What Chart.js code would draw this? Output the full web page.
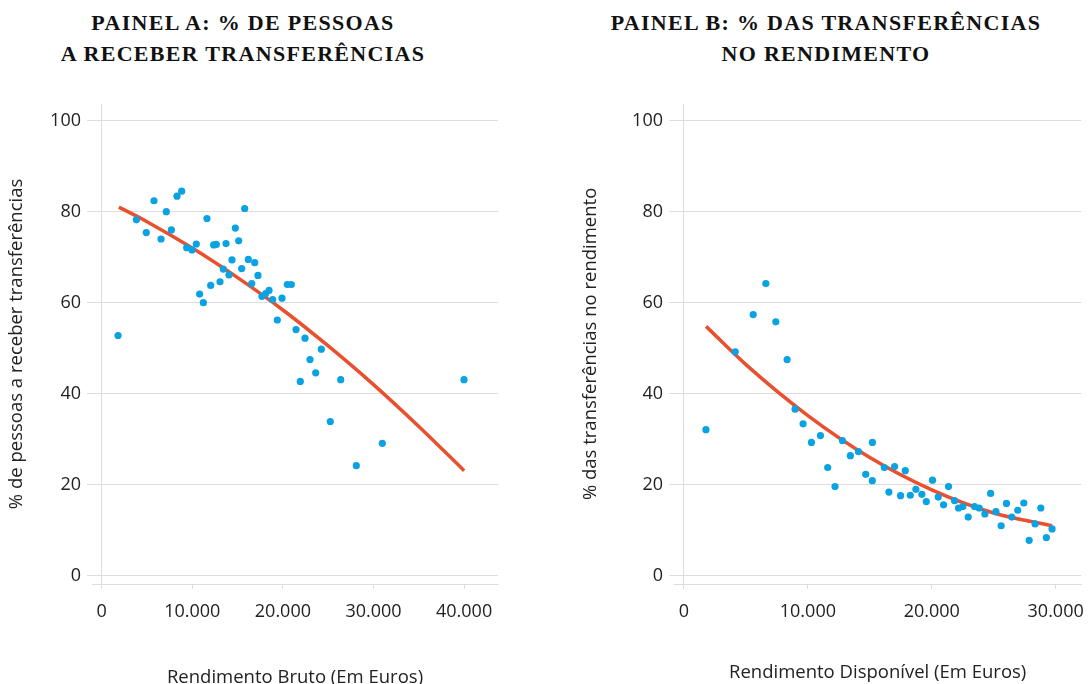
<!DOCTYPE html>
<html lang="pt">
<head>
<meta charset="utf-8">
<script src="https://cdn.jsdelivr.net/npm/chart.js@4"></script>
<style>
  body { margin: 0; background: #fff; }
  #wrap { position: relative; width: 1089px; height: 684px; overflow: hidden; }
  .title {
    position: absolute; top: 7px; width: 560px; margin: 0;
    font-family: "Liberation Serif", serif; font-weight: bold; font-size: 22px;
    line-height: 31px; letter-spacing: 1.3px; text-align: center; color: #111;
  }
  #titleA { left: -37px; }
  #titleB { left: 546px; }
  canvas { position: absolute; top: 87px; }
  #chartA { left: 0; }
  #chartB { left: 574px; }
</style>
</head>
<body>
<div id="wrap">
  <h2 class="title" id="titleA">PAINEL A: % DE PESSOAS<br>A RECEBER TRANSFERÊNCIAS</h2>
  <h2 class="title" id="titleB">PAINEL B: % DAS TRANSFERÊNCIAS<br>NO RENDIMENTO</h2>
  <canvas id="chartA" width="545" height="597"></canvas>
  <canvas id="chartB" width="522" height="597"></canvas>
</div>
<script>
// Painel A: rendimento bruto vs % de pessoas a receber transferências
const incomeA = [1810, 3830, 4920, 5770, 6550, 7130, 7690, 8310, 8830, 9380, 9970, 10440,
  10810, 11220, 11620, 12030, 12360, 12650, 13060, 13420, 13720, 14050, 14380, 14750,
  15120, 15450, 15780, 16180, 16560, 16890, 17250, 17690, 18100, 18470, 18870, 19380,
  19900, 20490, 20930, 21450, 21920, 22440, 22990, 23620, 24240, 25230, 26380, 28100,
  30970, 39990];
const shareA = [52.8, 78.2, 75.4, 82.4, 74.0, 80.0, 76.0, 83.4, 84.5, 72.1, 71.6, 72.9,
  61.9, 60.0, 78.5, 63.8, 72.7, 72.8, 64.6, 67.4, 73.0, 66.1, 69.4, 76.4,
  73.6, 67.5, 80.7, 69.5, 64.2, 68.8, 66.0, 61.4, 62.0, 62.7, 60.7, 56.2,
  61.0, 64.0, 64.0, 54.1, 42.7, 52.2, 47.5, 44.6, 49.8, 33.9, 43.1, 24.2,
  29.1, 43.1];
const trendIncomeA = [1900, 5000, 10000, 15000, 20000, 25000, 30000, 35000, 40000];
const trendShareA = [81, 77.8, 72, 65.5, 58.4, 50.5, 42, 32.8, 23.1];

// Painel B: rendimento disponível vs % das transferências no rendimento
const incomeB = [1773, 4136, 5584, 6608, 7413, 8324, 8969, 9614, 10290, 11015, 11600,
  12190, 12790, 13430, 14080, 14670, 15210, 15200, 16170, 16540, 17000, 17480, 17860,
  18270, 18720, 19200, 19560, 20060, 20520, 20950, 21350, 21840, 22160, 22510, 22940,
  23450, 23830, 24290, 24750, 25180, 25600, 26030, 26460, 26940, 27430, 27860, 28340,
  28800, 29250, 29710];
const shareB = [32.1, 49.2, 57.4, 64.2, 55.8, 47.5, 36.6, 33.4, 29.3, 30.8, 23.8,
  19.6, 29.7, 26.4, 27.3, 22.3, 29.3, 20.9, 23.8, 18.4, 24.0, 17.6, 23.1,
  17.7, 19.0, 17.9, 16.3, 21.0, 17.3, 15.6, 19.6, 16.5, 14.9, 15.2, 12.9,
  15.2, 14.9, 13.6, 18.1, 14.1, 11.0, 15.9, 12.9, 14.4, 16.0, 7.8, 11.4,
  14.9, 8.4, 10.3];
const trendIncomeB = [1780, 5000, 10000, 15000, 20000, 25000, 29700];
const trendShareB = [54.8, 46.4, 35.2, 26.0, 18.9, 13.8, 11.0];

const yTicks = [0, 20, 40, 60, 80, 100];
const xTicksA = [0, 10000, 20000, 30000, 40000];
const xTickLabelsA = ['0', '10.000', '20.000', '30.000', '40.000'];
const xTicksB = [0, 10000, 20000, 30000];
const xTickLabelsB = ['0', '10.000', '20.000', '30.000'];

const DOT = '#0aa2e2';
const TREND = '#e8502f';
const GRID = '#dddddd';
const TEXT = '#222222';
const FONT = '"Open Sans", "Noto Sans", sans-serif';

function pairs(xs, ys) {
  return xs.map((x, i) => ({ x: x, y: ys[i] }));
}

function makeChart(id, cfg) {
  const ctx = document.getElementById(id).getContext('2d');
  return new Chart(ctx, {
    type: 'scatter',
    data: {
      datasets: [{
        data: pairs(cfg.xs, cfg.ys),
        backgroundColor: DOT,
        borderWidth: 0,
        pointRadius: 3.6,
        order: 0
      }, {
        type: 'line',
        data: pairs(cfg.trendX, cfg.trendY),
        borderColor: TREND,
        borderWidth: 3.5,
        pointRadius: 0,
        fill: false,
        cubicInterpolationMode: 'monotone',
        order: 1
      }]
    },
    options: {
      responsive: false,
      animation: false,
      layout: { padding: { top: 11, right: cfg.padRight, left: 0, bottom: 0 } },
      plugins: { legend: { display: false }, tooltip: { enabled: false } },
      scales: {
        x: {
          type: 'linear',
          min: cfg.xMin,
          max: cfg.xMax,
          afterBuildTicks: s => { s.ticks = cfg.xTicks.map(v => ({ value: v })); },
          afterFit: s => { s.height = 100; },
          grid: {
            color: c => (c.tick && c.tick.value === 0) ? GRID : 'rgba(0,0,0,0)',
            tickColor: GRID,
            tickLength: 5
          },
          border: { display: true, color: GRID },
          ticks: {
            color: TEXT, padding: 12, maxRotation: 0,
            font: { family: FONT, size: 18 },
            callback: (v, i) => cfg.xLabels[i]
          },
          title: {
            display: true, text: cfg.xTitle, color: TEXT,
            font: { family: FONT, size: 18.5, lineHeight: 0.7 },
            padding: { top: 0, bottom: cfg.xTitlePad }
          }
        },
        y: {
          min: -1.8,
          max: 103.7,
          afterBuildTicks: s => { s.ticks = yTicks.map(v => ({ value: v })); },
          afterFit: s => { s.width = cfg.yWidth; },
          grid: { color: GRID, tickColor: GRID, tickLength: 5 },
          border: { display: false },
          ticks: { color: TEXT, padding: 6, font: { family: FONT, size: 18 } },
          title: {
            display: true, text: cfg.yTitle, color: TEXT,
            font: { family: FONT, size: 18.5, lineHeight: 1.2 },
            padding: { top: 6, bottom: 0 }
          }
        }
      }
    }
  });
}

makeChart('chartA', {
  xs: incomeA, ys: shareA, trendX: trendIncomeA, trendY: trendShareA,
  xMin: -1070, xMax: 43740, xTicks: xTicksA, xLabels: xTickLabelsA,
  padRight: 47, yWidth: 92, xTitlePad: 0,
  xTitle: 'Rendimento Bruto (Em Euros)',
  yTitle: '% de pessoas a receber transferências'
});

makeChart('chartB', {
  xs: incomeB, ys: shareB, trendX: trendIncomeB, trendY: trendShareB,
  xMin: -806, xMax: 32070, xTicks: xTicksB, xLabels: xTickLabelsB,
  padRight: 0, yWidth: 100, xTitlePad: 5,
  xTitle: 'Rendimento Disponível (Em Euros)',
  yTitle: '% das transferências no rendimento'
});
</script>
</body>
</html>
